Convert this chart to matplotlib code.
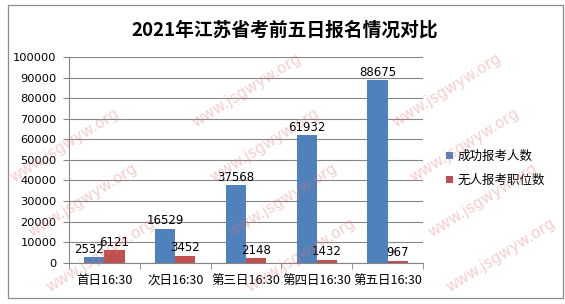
import matplotlib.pyplot as plt
import numpy as np
from matplotlib.patches import Rectangle

plt.rcParams['font.family'] = ['Noto Sans CJK SC', 'DejaVu Sans']

categories = ['首日16:30', '次日16:30', '第三日16:30', '第四日16:30', '第五日16:30']
applicants = [2532, 16529, 37568, 61932, 88675]
no_applicant_posts = [6121, 3452, 2148, 1432, 967]
series_names = ['成功报考人数', '无人报考职位数']
title = '2021年江苏省考前五日报名情况对比'
watermark = 'www.jsgwyw.org'

blue = '#4F81BD'
red = '#C0504D'
grid_color = '#868686'
W, H = 565, 304

fig = plt.figure(figsize=(W / 100, H / 100), dpi=100)
fig.patch.set_facecolor('white')

# chart border
fig.add_artist(Rectangle((8 / W, 1 - 298 / H), 555 / W, 293 / H,
                         transform=fig.transFigure, fill=False,
                         edgecolor='#8c8c8c', linewidth=0.9))

ax = fig.add_axes([69 / W, 1 - 262.7 / H, 354 / W, 205.7 / H])

x = np.arange(len(categories))
w = 0.285
b1 = ax.bar(x - w / 2, applicants, w, color=blue, label=series_names[0])
b2 = ax.bar(x + w / 2, no_applicant_posts, w, color=red, label=series_names[1])

num_font = ['DejaVu Sans']
for i, (rect, v) in enumerate(zip(b1, applicants)):
    dx = -4 if i == 0 else 0
    ax.annotate(str(v), (rect.get_x() + rect.get_width() / 2, v),
                xytext=(dx, 1), textcoords='offset points',
                ha='center', va='bottom', fontsize=8.5, family=num_font)
for rect, v in zip(b2, no_applicant_posts):
    ax.annotate(str(v), (rect.get_x() + rect.get_width() / 2, v),
                xytext=(0, 1), textcoords='offset points',
                ha='center', va='bottom', fontsize=8.5, family=num_font)

ax.set_xlim(-0.5, len(categories) - 0.5)
ax.set_ylim(0, 100000)
ax.set_yticks(np.arange(0, 100001, 10000))
ax.tick_params(axis='y', labelsize=8.2, length=4, color=grid_color, pad=5)
for lab in ax.get_yticklabels():
    lab.set_family(num_font)
ax.yaxis.grid(True, color=grid_color, linewidth=0.8)
ax.set_axisbelow(True)

# category labels centered, tick marks at category boundaries
ax.set_xticks(x)
ax.set_xticklabels(categories, fontsize=9)
ax.tick_params(axis='x', length=0, pad=8)
ax.set_xticks(np.arange(-0.5, len(categories)), minor=True)
ax.tick_params(axis='x', which='minor', length=4, color=grid_color)

for s in ['top', 'right']:
    ax.spines[s].set_visible(False)
for s in ['left', 'bottom']:
    ax.spines[s].set_color(grid_color)
    ax.spines[s].set_linewidth(0.8)

fig.text(285 / W, 1 - 30 / H, title, ha='center', va='center',
         fontsize=13.5, fontweight='bold')

ax.legend(loc='center left', bbox_to_anchor=(440 / W, 1 - 168.5 / H),
          bbox_transform=fig.transFigure, frameon=False, borderpad=0,
          fontsize=9, handlelength=0.55, handleheight=0.55,
          labelspacing=0.9, handletextpad=0.35)

# site watermark, only the copies that sit fully inside the picture
for m in range(-1, 3):
    for k in range(-2, 5):
        cx = 47 + 18 * k + 200 * m
        cy = 90 + 55 * k
        if 60 < cx < W - 60 and 38 < cy < H - 38:
            fig.text(cx / W, 1 - cy / H, watermark, rotation=32,
                     ha='center', va='center', fontsize=11, color='#e57373',
                     alpha=0.35, family=num_font, zorder=10)

fig.savefig('out.png', dpi=100)
